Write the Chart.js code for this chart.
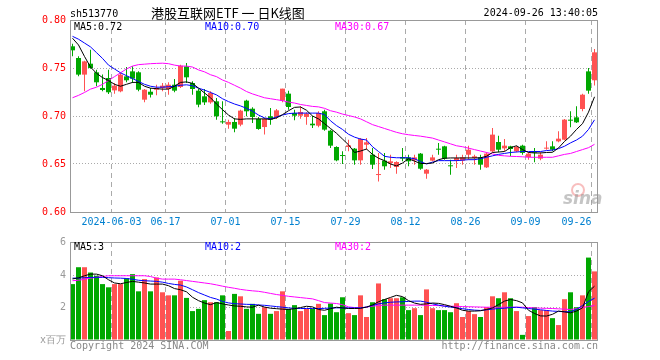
<!DOCTYPE html>
<html>
<head>
<meta charset="utf-8">
<script src="https://cdn.jsdelivr.net/npm/chart.js@4.4.1/dist/chart.umd.min.js"></script>
<style>
  body { margin: 0; background: #fff; }
  #wrap { position: relative; width: 660px; height: 360px; overflow: hidden; font-family: 'DejaVu Sans Mono', monospace; font-size: 10px; }
  #wrap canvas { position: absolute; left: 0; }
  .t { position: absolute; line-height: 10px; white-space: pre; }
</style>
</head>
<body>
<div id="wrap">
  <canvas id="kChart" width="660" height="232" style="top:0"></canvas>
  <canvas id="volChart" width="660" height="128" style="top:232px"></canvas>

  <div class="t" style="left:70px;top:9px">sh513770</div>
  <div class="t" style="left:151px;top:6px;font:13px/13px 'Noto Sans CJK SC'">港股互联网ETF 一 日K线图</div>
  <div class="t" style="right:62px;top:8px">2024-09-26 13:40:05</div>

  <div class="t" style="left:74px;top:22px">MA5:0.72</div>
  <div class="t" style="left:205px;top:22px;color:#0000ff">MA10:0.70</div>
  <div class="t" style="left:335px;top:22px;color:#ff00ff">MA30:0.67</div>

  <div class="t" style="left:74px;top:242px">MA5:3</div>
  <div class="t" style="left:205px;top:242px;color:#0000ff">MA10:2</div>
  <div class="t" style="left:335px;top:242px;color:#ff00ff">MA30:2</div>

  <div class="t" style="left:70px;top:341px;color:#888">Copyright 2024 SINA.COM</div>
  <div class="t" style="right:62px;top:341px;color:#888">http://finance.sina.com.cn</div>

  <div style="position:absolute;left:571px;top:183px;width:10px;height:10px;border:2px solid rgba(240,110,110,0.45);border-radius:50%"></div>
  <div class="t" style="left:563px;top:191px;font:italic bold 17px/14px 'DejaVu Sans';color:rgba(150,150,150,0.55)">sina</div>
</div>

<script>
const dates = [
  '2024-05-23','2024-05-24','2024-05-27','2024-05-28','2024-05-29','2024-05-30','2024-05-31',
  '2024-06-03','2024-06-04','2024-06-05','2024-06-06','2024-06-07','2024-06-11','2024-06-12','2024-06-13','2024-06-14',
  '2024-06-17','2024-06-18','2024-06-19','2024-06-20','2024-06-21','2024-06-24','2024-06-25','2024-06-26','2024-06-27','2024-06-28',
  '2024-07-01','2024-07-02','2024-07-03','2024-07-04','2024-07-05','2024-07-08','2024-07-09','2024-07-10','2024-07-11','2024-07-12',
  '2024-07-15','2024-07-16','2024-07-17','2024-07-18','2024-07-19','2024-07-22','2024-07-23','2024-07-24','2024-07-25','2024-07-26',
  '2024-07-29','2024-07-30','2024-07-31','2024-08-01','2024-08-02','2024-08-05','2024-08-06','2024-08-07','2024-08-08','2024-08-09',
  '2024-08-12','2024-08-13','2024-08-14','2024-08-15','2024-08-16','2024-08-19','2024-08-20','2024-08-21','2024-08-22','2024-08-23',
  '2024-08-26','2024-08-27','2024-08-28','2024-08-29','2024-08-30','2024-09-02','2024-09-03','2024-09-04','2024-09-05','2024-09-06',
  '2024-09-09','2024-09-10','2024-09-11','2024-09-12','2024-09-13','2024-09-18','2024-09-19','2024-09-20',
  '2024-09-23','2024-09-24','2024-09-25','2024-09-26'
]

const open = [
  0.7726, 0.7604, 0.7431, 0.7545, 0.7455, 0.7292, 0.7396, 0.7267, 0.7257, 0.7413,
  0.7465, 0.7455, 0.7170, 0.7253, 0.7274, 0.7292, 0.7281, 0.7326, 0.7302, 0.7517,
  0.7344, 0.7264, 0.7205, 0.7142, 0.7153, 0.6944, 0.6910, 0.6938, 0.6910, 0.7160,
  0.7076, 0.6969, 0.6885, 0.6997, 0.6990, 0.7160, 0.7233, 0.7031, 0.7003, 0.6990,
  0.6920, 0.6899, 0.7049, 0.6847, 0.6677, 0.6590, 0.6677, 0.6660, 0.6538, 0.6701,
  0.6597, 0.6385, 0.6535, 0.6510, 0.6469, 0.6573, 0.6569, 0.6538, 0.6608, 0.6399,
  0.6535, 0.6656, 0.6684, 0.6486, 0.6538, 0.6535, 0.6597, 0.6563, 0.6569, 0.6465,
  0.6632, 0.6729, 0.6663, 0.6684, 0.6632, 0.6691, 0.6573, 0.6625, 0.6556, 0.6660,
  0.6684, 0.6736, 0.6753, 0.6962, 0.6986, 0.7073, 0.7465, 0.7372
]
const high = [
  0.7753, 0.7622, 0.7576, 0.7691, 0.7483, 0.7431, 0.7483, 0.7344, 0.7448, 0.7510,
  0.7517, 0.7465, 0.7281, 0.7292, 0.7326, 0.7344, 0.7351, 0.7385, 0.7535, 0.7552,
  0.7361, 0.7281, 0.7281, 0.7257, 0.7188, 0.7153, 0.6962, 0.6979, 0.7066, 0.7170,
  0.7090, 0.6990, 0.6979, 0.7083, 0.7073, 0.7285, 0.7264, 0.7066, 0.7101, 0.7038,
  0.7003, 0.7049, 0.7066, 0.6858, 0.6684, 0.6632, 0.6753, 0.6667, 0.6771, 0.6771,
  0.6667, 0.6615, 0.6615, 0.6597, 0.6528, 0.6667, 0.6597, 0.6597, 0.6615, 0.6448,
  0.6597, 0.6719, 0.6691, 0.6545, 0.6597, 0.6597, 0.6691, 0.6597, 0.6597, 0.6622,
  0.6875, 0.6795, 0.6760, 0.6691, 0.6691, 0.6701, 0.6622, 0.6667, 0.6622, 0.6736,
  0.6736, 0.6840, 0.6969, 0.7049, 0.7101, 0.7233, 0.7500, 0.7698
]
const low = [
  0.7622, 0.7413, 0.7257, 0.7493, 0.7309, 0.7257, 0.7229, 0.7233, 0.7247, 0.7351,
  0.7344, 0.7257, 0.7142, 0.7194, 0.7215, 0.7257, 0.7222, 0.7247, 0.7292, 0.7344,
  0.7222, 0.7090, 0.7115, 0.7128, 0.6962, 0.6920, 0.6868, 0.6830, 0.6892, 0.6997,
  0.6927, 0.6858, 0.6806, 0.6910, 0.6969, 0.7142, 0.7066, 0.6955, 0.6972, 0.6910,
  0.6875, 0.6882, 0.6847, 0.6667, 0.6528, 0.6500, 0.6632, 0.6493, 0.6493, 0.6649,
  0.6448, 0.6319, 0.6441, 0.6458, 0.6399, 0.6528, 0.6476, 0.6493, 0.6441, 0.6347,
  0.6528, 0.6597, 0.6545, 0.6389, 0.6458, 0.6493, 0.6545, 0.6493, 0.6441, 0.6458,
  0.6622, 0.6622, 0.6632, 0.6580, 0.6622, 0.6597, 0.6545, 0.6517, 0.6538, 0.6649,
  0.6632, 0.6726, 0.6747, 0.6882, 0.6927, 0.7049, 0.7233, 0.7319
]
const close = [
  0.7684, 0.7431, 0.7569, 0.7500, 0.7351, 0.7271, 0.7247, 0.7316, 0.7431, 0.7372,
  0.7389, 0.7274, 0.7274, 0.7222, 0.7292, 0.7316, 0.7326, 0.7264, 0.7524, 0.7403,
  0.7281, 0.7118, 0.7142, 0.7240, 0.6997, 0.6934, 0.6938, 0.6868, 0.7056, 0.7049,
  0.6990, 0.6865, 0.6969, 0.6962, 0.7059, 0.7285, 0.7094, 0.7003, 0.7042, 0.7024,
  0.6903, 0.7031, 0.6858, 0.6691, 0.6538, 0.6583, 0.6694, 0.6538, 0.6760, 0.6726,
  0.6493, 0.6392, 0.6476, 0.6528, 0.6521, 0.6556, 0.6528, 0.6569, 0.6451, 0.6441,
  0.6569, 0.6649, 0.6556, 0.6476, 0.6562, 0.6569, 0.6649, 0.6580, 0.6493, 0.6608,
  0.6806, 0.6649, 0.6691, 0.6656, 0.6677, 0.6615, 0.6608, 0.6618, 0.6597, 0.6667,
  0.6649, 0.6764, 0.6962, 0.6951, 0.6934, 0.7222, 0.7264, 0.7663
]

const ma5 = [
  0.781, 0.774, 0.762, 0.751, 0.7445, 0.740, 0.737, 0.733, 0.731, 0.733,
  0.735, 0.735, 0.731, 0.729, 0.7285, 0.728, 0.728, 0.731, 0.735, 0.7355,
  0.734, 0.729, 0.724, 0.719, 0.7125, 0.7066, 0.701, 0.697, 0.6965, 0.697,
  0.697, 0.697, 0.697, 0.6965, 0.698, 0.7014, 0.7055, 0.709, 0.7094, 0.706,
  0.700, 0.697, 0.692, 0.687, 0.682, 0.676, 0.670, 0.662, 0.6635, 0.6656,
  0.660, 0.656, 0.6535, 0.650, 0.648, 0.651, 0.6555, 0.653, 0.6505, 0.6505,
  0.651, 0.6545, 0.656, 0.6563, 0.6563, 0.6563, 0.6563, 0.6563, 0.6565, 0.658,
  0.662, 0.6625, 0.663, 0.667, 0.669, 0.665, 0.662, 0.6615, 0.6615, 0.662,
  0.6622, 0.6667, 0.6735, 0.679, 0.686, 0.692, 0.704, 0.720
]
const ma10 = [
  0.7830, 0.7800, 0.7760, 0.7720, 0.7660, 0.7600, 0.7530, 0.7490, 0.7450, 0.7420,
  0.7390, 0.7360, 0.7330, 0.7310, 0.7300, 0.7300, 0.7305, 0.7310, 0.7320, 0.7325,
  0.7315, 0.7290, 0.7270, 0.7245, 0.7220, 0.7180, 0.7150, 0.7125, 0.7105, 0.7080,
  0.7050, 0.7010, 0.6980, 0.6970, 0.6990, 0.7010, 0.7025, 0.7030, 0.7030, 0.7030,
  0.7030, 0.7030, 0.7015, 0.6950, 0.6900, 0.6860, 0.6810, 0.6780, 0.6760, 0.6750,
  0.6680, 0.6630, 0.6580, 0.6570, 0.6565, 0.6565, 0.6565, 0.6555, 0.6525, 0.6500,
  0.6520, 0.6535, 0.6535, 0.6535, 0.6535, 0.6540, 0.6545, 0.6545, 0.6555, 0.6570,
  0.6585, 0.6600, 0.6610, 0.6620, 0.6625, 0.6630, 0.6630, 0.6630, 0.6630, 0.6640,
  0.6645, 0.6660, 0.6685, 0.6720, 0.6750, 0.6790, 0.6860, 0.6960
]
const ma30 = [
  0.7190, 0.7215, 0.7245, 0.7280, 0.7300, 0.7330, 0.7370, 0.7410, 0.7450, 0.7490,
  0.7520, 0.7535, 0.7540, 0.7545, 0.7548, 0.7550, 0.7545, 0.7530, 0.7520, 0.7520,
  0.7510, 0.7480, 0.7460, 0.7430, 0.7410, 0.7375, 0.7350, 0.7320, 0.7290, 0.7255,
  0.7230, 0.7210, 0.7190, 0.7180, 0.7170, 0.7160, 0.7145, 0.7135, 0.7120, 0.7110,
  0.7100, 0.7095, 0.7080, 0.7055, 0.7040, 0.7020, 0.7005, 0.6990, 0.6970, 0.6940,
  0.6910, 0.6890, 0.6870, 0.6850, 0.6830, 0.6815, 0.6805, 0.6797, 0.6790, 0.6780,
  0.6770, 0.6750, 0.6730, 0.6710, 0.6690, 0.6680, 0.6665, 0.6650, 0.6635, 0.6620,
  0.6605, 0.6590, 0.6585, 0.6580, 0.6578, 0.6575, 0.6570, 0.6570, 0.6570, 0.6570,
  0.6570, 0.6585, 0.6600, 0.6610, 0.6630, 0.6650, 0.6670, 0.6705
]

// volume in millions
const volume = [
  3.48, 4.53, 4.53, 4.20, 4.00, 3.48, 3.28, 3.48, 3.48, 3.85,
  4.10, 3.03, 3.79, 3.03, 3.89, 2.97, 2.78, 2.78, 3.69, 2.62,
  1.80, 1.94, 2.48, 2.35, 2.35, 2.78, 0.56, 2.87, 2.72, 1.94,
  2.25, 1.63, 2.04, 1.63, 1.80, 3.03, 1.94, 2.17, 1.80, 1.94,
  1.94, 2.25, 1.55, 2.27, 1.73, 2.66, 1.67, 1.55, 2.78, 1.43,
  2.35, 3.52, 2.54, 2.60, 2.60, 2.66, 1.86, 1.98, 1.55, 3.15,
  1.98, 1.86, 1.86, 1.73, 2.29, 1.43, 1.80, 1.61, 1.43, 2.04,
  2.72, 2.60, 2.97, 2.60, 1.80, 0.32, 1.49, 2.04, 1.86, 1.86,
  1.36, 0.93, 2.54, 2.97, 2.04, 2.78, 5.13, 4.27
]
const volMa5 = [
  3.80, 3.87, 4.00, 4.10, 4.10, 4.00, 3.75, 3.55, 3.50, 3.58,
  3.65, 3.60, 3.55, 3.48, 3.48, 3.48, 3.38, 3.20, 3.13, 3.00,
  2.66, 2.45, 2.30, 2.20, 2.33, 2.25, 2.18, 2.12, 2.10, 2.06,
  2.04, 2.17, 2.05, 1.98, 1.95, 1.92, 1.90, 1.95, 2.02, 2.10,
  2.06, 1.90, 1.85, 1.95, 2.04, 2.00, 1.96, 1.96, 1.97, 2.05,
  2.18, 2.38, 2.52, 2.65, 2.78, 2.70, 2.45, 2.30, 2.22, 2.25,
  2.30, 2.28, 2.20, 2.10, 2.00, 1.85, 1.80, 1.80, 1.82, 1.90,
  2.00, 2.20, 2.42, 2.52, 2.45, 2.31, 1.85, 1.65, 1.50, 1.49,
  1.60, 1.80, 1.75, 1.69, 1.80, 2.00, 3.00, 3.35
]
const volMa10 = [
  3.85, 3.85, 3.88, 3.90, 3.90, 3.90, 3.88, 3.86, 3.85, 3.83,
  3.78, 3.72, 3.69, 3.67, 3.65, 3.60, 3.52, 3.46, 3.42, 3.30,
  3.13, 2.95, 2.80, 2.65, 2.55, 2.40, 2.31, 2.26, 2.24, 2.22,
  2.21, 2.18, 2.16, 2.12, 2.08, 2.04, 2.00, 1.97, 1.96, 1.96,
  1.96, 1.96, 1.97, 1.99, 2.00, 2.00, 2.00, 2.00, 2.00, 2.05,
  2.15, 2.25, 2.31, 2.35, 2.37, 2.38, 2.40, 2.42, 2.42, 2.35,
  2.25, 2.17, 2.10, 2.05, 2.00, 1.95, 1.90, 1.86, 1.84, 1.88,
  1.92, 1.96, 1.98, 2.02, 2.04, 2.00, 1.96, 1.92, 1.88, 1.84,
  1.80, 1.78, 1.76, 1.76, 1.90, 2.15, 2.40, 2.60
]
const volMa30 = [
  3.69, 3.72, 3.78, 3.85, 3.90, 3.95, 4.00, 4.00, 4.00, 4.00,
  4.00, 4.00, 4.00, 3.95, 3.85, 3.79, 3.79, 3.79, 3.75, 3.70,
  3.65, 3.60, 3.55, 3.50, 3.43, 3.35, 3.28, 3.22, 3.15, 3.10,
  3.06, 3.03, 2.97, 2.90, 2.83, 2.78, 2.72, 2.68, 2.64, 2.60,
  2.56, 2.45, 2.33, 2.30, 2.27, 2.20, 2.06, 2.02, 2.00, 2.05,
  2.10, 2.15, 2.17, 2.17, 2.17, 2.17, 2.17, 2.17, 2.17, 2.16,
  2.15, 2.14, 2.12, 2.10, 2.10, 2.08, 2.07, 2.06, 2.05, 2.04,
  2.04, 2.04, 2.04, 2.04, 2.04, 2.04, 2.02, 2.00, 1.98, 1.97,
  1.96, 1.94, 1.92, 1.90, 1.95, 2.02, 2.08, 2.15
]

const tickDates = ['2024-06-03','2024-06-17','2024-07-01','2024-07-15','2024-07-29','2024-08-12','2024-08-26','2024-09-09','2024-09-26']
const tickLabels = ['2024-06-03','06-17','07-01','07-15','07-29','08-12','08-26','09-09','09-26']
const priceTicks = [0.60, 0.65, 0.70, 0.75, 0.80]
const volTicks = [0, 2, 4, 6.1]
const volTickLabels = ['x百万', '2', '4', '6']

const RED = '#ff5252'
const GREEN = '#00a800'
const font = { family: 'DejaVu Sans Mono', size: 10 }
const colors = close.map((c, i) => c >= open[i] ? RED : GREEN)
const xMin = -0.4167
const xMax = 87.5833

const pts = arr => arr.map((v, i) => ({ x: i, y: v }))

const frame = {
    id: 'frame',
    afterDraw(chart) {
        const { ctx, chartArea: a } = chart
        ctx.save()
        ctx.strokeStyle = '#999'
        ctx.lineWidth = 1
        ctx.strokeRect(a.left + 0.5, a.top + 0.5, a.right - a.left - 1, a.bottom - a.top)
        ctx.restore()
    }
}

const xAxis = (showLabels) => ({
    type: 'linear',
    min: xMin,
    max: xMax,
    offset: false,
    afterBuildTicks: scale => {
        scale.ticks = [{ value: xMin }].concat(tickDates.map(d => ({ value: dates.indexOf(d) - 0.5 })))
    },
    afterFit: scale => { scale.height = showLabels ? 20 : 0 },
    ticks: {
        display: showLabels,
        autoSkip: false,
        maxRotation: 0,
        align: 'inner',
        padding: 4,
        color: '#0080d0',
        font: font,
        callback: (v, i) => i === 0 ? '' : tickLabels[i - 1],
    },
    grid: {
        offset: false,
        color: ctx => ctx.index === 0 ? 'rgba(0,0,0,0)' : '#aaa',
        drawTicks: false,
    },
    border: { display: false, dash: [5, 4] },
})

const lineSet = (arr, color) => ({
    type: 'line',
    data: pts(arr),
    borderColor: color,
    borderWidth: 1,
    pointRadius: 0,
    tension: 0,
    order: 0,
})

const common = {
    responsive: false,
    animation: false,
    devicePixelRatio: 1,
    plugins: { legend: { display: false }, tooltip: { enabled: false } },
}

new Chart(document.getElementById('kChart'), {
    type: 'bar',
    data: {
        datasets: [
            lineSet(ma5, '#000000'),
            lineSet(ma10, '#0000ff'),
            lineSet(ma30, '#ff00ff'),
            {
                data: open.map((o, i) => ({ x: i, y: [o, close[i]] })),
                backgroundColor: colors,
                barThickness: 5,
                minBarLength: 1,
                inflateAmount: 0,
                grouped: false,
                order: 1,
            },
            {
                data: low.map((l, i) => ({ x: i, y: [l, high[i]] })),
                backgroundColor: colors,
                barThickness: 1,
                inflateAmount: 0,
                grouped: false,
                order: 2,
            },
        ]
    },
    options: {
        ...common,
        layout: { padding: { left: 0, right: 62, top: 20, bottom: 0 } },
        scales: {
            x: xAxis(true),
            y: {
                min: 0.6,
                max: 0.8,
                afterBuildTicks: scale => { scale.ticks = priceTicks.map(v => ({ value: v })) },
                afterFit: scale => { scale.width = 70 },
                ticks: { color: '#ff0000', padding: 4, font: font, callback: v => v.toFixed(2) },
                grid: {
                    color: ctx => ctx.index > 0 && ctx.index < priceTicks.length - 1 ? '#aaa' : 'rgba(0,0,0,0)',
                    drawTicks: false,
                },
                border: { display: false, dash: [1, 2] },
            },
        }
    },
    plugins: [frame]
})

new Chart(document.getElementById('volChart'), {
    type: 'bar',
    data: {
        datasets: [
            lineSet(volMa5, '#000000'),
            lineSet(volMa10, '#0000ff'),
            lineSet(volMa30, '#ff00ff'),
            {
                data: pts(volume),
                backgroundColor: colors,
                barThickness: 5,
                inflateAmount: 0,
                grouped: false,
                order: 1,
            },
        ]
    },
    options: {
        ...common,
        layout: { padding: { left: 0, right: 62, top: 8, bottom: 20 } },
        scales: {
            x: xAxis(false),
            y: {
                min: 0,
                max: volTicks[volTicks.length - 1],
                afterBuildTicks: scale => { scale.ticks = volTicks.map(v => ({ value: v })) },
                afterFit: scale => { scale.width = 70 },
                ticks: { color: '#999', padding: 4, font: font, callback: (v, i) => volTickLabels[i] },
                grid: {
                    color: ctx => ctx.index > 0 && ctx.index < volTicks.length - 1 ? '#aaa' : 'rgba(0,0,0,0)',
                    drawTicks: false,
                },
                border: { display: false, dash: [1, 2] },
            },
        }
    },
    plugins: [frame]
})
</script>
</body>
</html>
